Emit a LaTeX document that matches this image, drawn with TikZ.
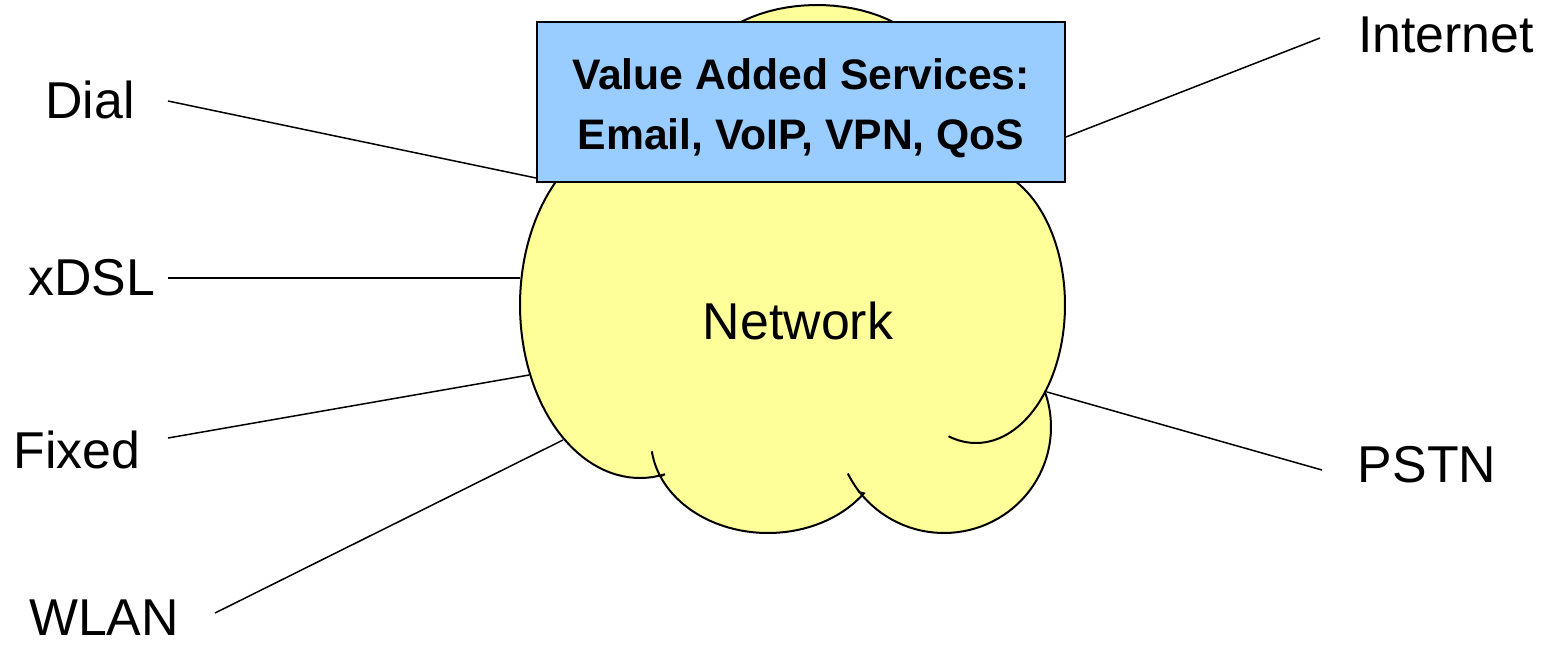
\documentclass[tikz,border=0pt]{standalone}
\usepackage{fontspec}
\setmainfont{Liberation Sans}
\definecolor{cloudfill}{HTML}{FFFF99}
\definecolor{boxfill}{HTML}{99CCFF}
\tikzset{
  lbl/.style={font=\fontsize{29.5}{34}\selectfont, inner sep=0pt},
  link/.style={line width=0.03cm},
  rim/.style={line width=0.04cm},
  vasbox/.style={draw, rim, fill=boxfill, minimum width=10.56cm, minimum height=3.2cm},
  vastext/.style={align=center, inner sep=0pt, font=\fontsize{24.3}{34}\selectfont\bfseries},
}
\begin{document}
\begin{tikzpicture}[x=0.02cm,y=-0.02cm]
\useasboundingbox (0,0) rectangle (1548,647);
\filldraw[rim, fill=cloudfill] plot[domain=0:360,samples=80] ({817+120*cos(\x)},{80-75*sin(\x)}) -- cycle;
\filldraw[rim, fill=cloudfill]
  plot[domain=110:282,samples=60] ({640+120*cos(\x)},{305-173*sin(\x)})
  -- plot[domain=203:325,samples=40] ({768+117*cos(\x)},{440-93*sin(\x)})
  -- plot[domain=218:379,samples=50] ({944+107*cos(\x)},{427-106*sin(\x)})
  -- plot[domain=-38:100,samples=50] ({976+89*cos(\x)},{305-138*sin(\x)})
  -- cycle;
\draw[rim] plot[domain=187:203,samples=10] ({768+117*cos(\x)},{440-93*sin(\x)});
\draw[rim] plot[domain=206:218,samples=10] ({944+107*cos(\x)},{427-106*sin(\x)});
\draw[rim] plot[domain=-108:-38,samples=30] ({976+89*cos(\x)},{305-138*sin(\x)});
\node[vasbox] (vas) at (801,102) {};
\node[vastext] (vaslist) at (801,108) {Value Added Services:\\Email, VoIP, VPN, QoS};
\node[lbl] (net) at (798,321) {Network};
\node[lbl] (dial) at (90,100) {Dial};
\node[lbl] (xdsl) at (92,278) {xDSL};
\node[lbl] (fixed) at (77,450) {Fixed};
\node[lbl] (wlan) at (104,618) {WLAN};
\node[lbl] (inet) at (1446,35) {Internet};
\node[lbl] (pstn) at (1427,465) {PSTN};
\coordinate (dial-a) at (168,101);
\coordinate (xdsl-a) at (168,278);
\coordinate (fixed-a) at (168,438);
\coordinate (wlan-a) at (215,613);
\coordinate (inet-a) at (1320,38);
\coordinate (pstn-a) at (1322,470);
\coordinate (dial-b) at (536,178);
\coordinate (xdsl-b) at (520,278);
\coordinate (fixed-b) at (529,375);
\coordinate (wlan-b) at (563,440);
\coordinate (inet-b) at (1066,137);
\coordinate (pstn-b) at (1047,392);
\draw[link] (dial-a) -- (dial-b);
\draw[link] (xdsl-a) -- (xdsl-b);
\draw[link] (fixed-a) -- (fixed-b);
\draw[link] (wlan-a) -- (wlan-b);
\draw[link] (inet-a) -- (inet-b);
\draw[link] (pstn-a) -- (pstn-b);
\end{tikzpicture}
\end{document}
